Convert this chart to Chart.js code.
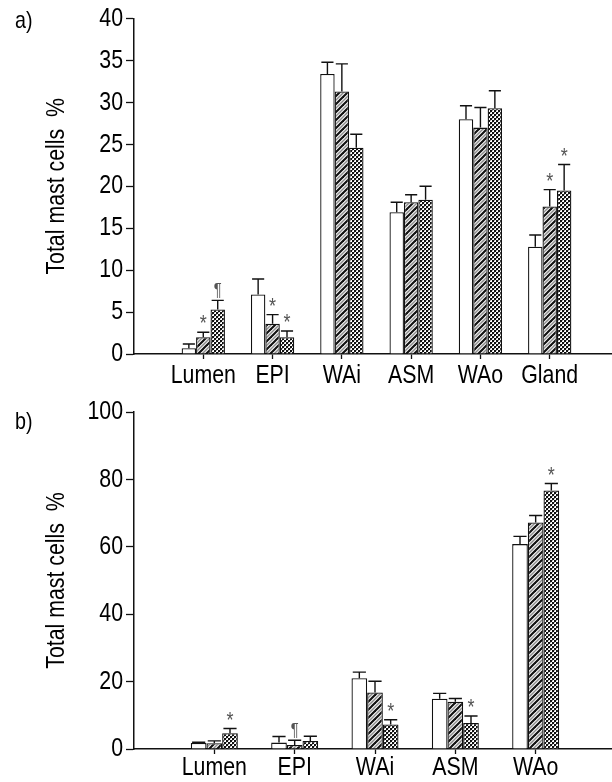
<!DOCTYPE html>
<html>
<head>
<meta charset="utf-8">
<script src="https://cdn.jsdelivr.net/npm/chart.js@4.4.1/dist/chart.umd.min.js"></script>
<style>
  html, body { margin:0; padding:0; background:#fff; width:612px; height:782px; overflow:hidden; }
  #wrap { position:relative; width:612px; height:782px; overflow:hidden; }
  canvas { position:absolute; left:0; }
  #ca { top:0; }
  #cb { top:390px; }
  .lab { position:absolute; line-height:1; color:#000; font-family:"Liberation Sans", Arial, sans-serif; font-size:24px; transform:scaleX(0.82); transform-origin:0 0; }
</style>
</head>
<body>
<div id="wrap">
  <canvas id="ca" width="620" height="390"></canvas>
  <canvas id="cb" width="617" height="392"></canvas>
  <div class="lab" style="left:15px; top:8px;">a)</div>
  <div class="lab" style="left:15px; top:409px;">b)</div>
</div>
<script>
// ---------- data: panel a ----------
const categoriesA = ['Lumen', 'EPI', 'WAi', 'ASM', 'WAo', 'Gland'];
const whiteA      = [0.7, 7.1, 33.4, 16.9, 28.0, 12.8];
const whiteErrA   = [0.5, 1.85, 1.4, 1.2, 1.6, 1.4];
const hatchA      = [2.0, 3.6, 31.3, 18.1, 27.0, 17.6];
const hatchErrA   = [0.6, 1.1, 3.3, 0.9, 2.4, 2.0];
const checkA      = [5.3, 2.0, 24.6, 18.4, 29.3, 19.5];
const checkErrA   = [1.1, 0.75, 1.6, 1.6, 2.1, 3.1];
const whiteMarkA  = ['', '', '', '', '', ''];
const hatchMarkA  = ['*', '*', '', '', '', '*'];
const checkMarkA  = ['\u00B6', '*', '', '', '', '*'];
const yTicksA     = [0, 5, 10, 15, 20, 25, 30, 35, 40];

// ---------- data: panel b ----------
const categoriesB = ['Lumen', 'EPI', 'WAi', 'ASM', 'WAo'];
const whiteB      = [1.8, 1.9, 21.0, 14.9, 60.8];
const whiteErrB   = [0.2, 1.8, 1.8, 1.6, 2.3];
const hatchB      = [1.7, 1.2, 16.8, 14.0, 67.2];
const hatchErrB   = [0.7, 1.4, 3.3, 1.0, 2.1];
const checkB      = [4.7, 2.4, 7.3, 7.7, 76.7];
const checkErrB   = [1.4, 1.4, 1.4, 2.1, 2.1];
const whiteMarkB  = ['', '', '', '', ''];
const hatchMarkB  = ['', '\u00B6', '', '', ''];
const checkMarkB  = ['*', '', '*', '*', '*'];
const yTicksB     = [0, 20, 40, 60, 80, 100];
const yTitle      = 'Total mast cells  %';

const FONT = '"Liberation Sans", Arial, sans-serif';
const FS = 26;          // font size
const SX = 0.82;        // horizontal condensing (narrow sans look)

// condensed text drawing on the chart canvases (text stays real text)
['ca', 'cb'].forEach(id => {
  const g = document.getElementById(id).getContext('2d');
  const orig = CanvasRenderingContext2D.prototype.fillText;
  g.fillText = function (t, x, y, mw) {
    this.save(); this.translate(x, y); this.scale(SX, 1);
    if (mw !== undefined) orig.call(this, t, 0, 0, mw / SX); else orig.call(this, t, 0, 0);
    this.restore();
  };
});

// ---------- fill patterns ----------
function hatchPattern() {
  const c = document.createElement('canvas'); c.width = 8; c.height = 8;
  const g = c.getContext('2d');
  g.fillStyle = '#fff'; g.fillRect(0, 0, 8, 8);
  g.lineCap = 'square';
  g.strokeStyle = '#111'; g.lineWidth = 2.2;
  [-8, 0, 8].forEach(a => { g.beginPath(); g.moveTo(a, 8); g.lineTo(a + 8, 0); g.stroke(); });
  g.strokeStyle = '#8a8a8a'; g.lineWidth = 1.5;
  [-4, 4].forEach(a => { g.beginPath(); g.moveTo(a, 8); g.lineTo(a + 8, 0); g.stroke(); });
  return g.createPattern(c, 'repeat');
}
function checkPattern() {
  const c = document.createElement('canvas'); c.width = 4; c.height = 4;
  const g = c.getContext('2d');
  g.fillStyle = '#fff'; g.fillRect(0, 0, 4, 4);
  g.fillStyle = '#111'; g.fillRect(0, 0, 2, 2); g.fillRect(2, 2, 2, 2);
  g.fillStyle = '#a0a0a0'; g.fillRect(2, 0, 1, 1); g.fillRect(0, 2, 1, 1);
  return g.createPattern(c, 'repeat');
}
const HATCH = hatchPattern();
const CHECK = checkPattern();

const pad = arr => [null, ...arr, null];

// ---------- error bars + significance marks ----------
const errPlugin = {
  id: 'errbars',
  afterDatasetsDraw(chart, args, opts) {
    const ctx = chart.ctx, y = chart.scales.y;
    ctx.save();
    chart.data.datasets.forEach((ds, di) => {
      const meta = chart.getDatasetMeta(di);
      meta.data.forEach((bar, i) => {
        const v = ds.data[i];
        if (v == null) return;
        const e = opts.errors[di][i] || 0;
        const top = y.getPixelForValue(v + e);
        const half = bar.width * 0.42;
        ctx.strokeStyle = '#111'; ctx.lineWidth = 1.4;
        ctx.beginPath();
        ctx.moveTo(bar.x, bar.y); ctx.lineTo(bar.x, top);
        ctx.moveTo(bar.x - half, top); ctx.lineTo(bar.x + half, top);
        ctx.stroke();
        const m = opts.marks[di][i];
        if (m) {
          ctx.fillStyle = '#555'; ctx.textAlign = 'center';
          if (m === '*') {
            ctx.font = '22px ' + FONT; ctx.textBaseline = 'middle';
            ctx.fillText(m, bar.x, top - 8);
          } else {
            ctx.font = '18px ' + FONT; ctx.textBaseline = 'alphabetic';
            ctx.fillText(m, bar.x, top - 4);
          }
        }
      });
    });
    ctx.restore();
  }
};

function makeChart(id, cats, series, errs, marks, yTicks, catPct, xAxisH, padTop, xPad) {
  const labels = ['', ...cats, ''];
  const fills = ['#ffffff', HATCH, CHECK];
  return new Chart(document.getElementById(id), {
    type: 'bar',
    data: {
      labels,
      datasets: series.map((s, k) => ({
        data: pad(s),
        backgroundColor: fills[k],
        borderColor: '#111',
        borderWidth: 1.3,
        borderSkipped: 'bottom',
        categoryPercentage: catPct,
        barPercentage: 1.0
      }))
    },
    options: {
      responsive: false,
      animation: false,
      devicePixelRatio: 1,
      layout: { padding: { top: padTop, right: 1, left: 0, bottom: 0 } },
      plugins: {
        legend: { display: false },
        tooltip: { enabled: false },
        errbars: { errors: errs.map(pad), marks: marks.map(pad) }
      },
      scales: {
        x: {
          type: 'category',
          offset: false,
          grid: {
            offset: false, drawOnChartArea: false, drawTicks: true, tickLength: 5,
            tickColor: c => (c.tick && c.tick.label) ? '#111' : 'rgba(0,0,0,0)', tickWidth: 1.3
          },
          border: { display: true, color: '#111', width: 1.5 },
          ticks: { color: '#000', font: { family: FONT, size: FS }, padding: xPad, maxRotation: 0, autoSkip: false },
          afterFit: s => { s.height = xAxisH; }
        },
        y: {
          min: yTicks[0], max: yTicks[yTicks.length - 1],
          afterBuildTicks: s => { s.ticks = yTicks.map(v => ({ value: v })); },
          grid: { drawOnChartArea: false, drawTicks: true, tickLength: 8, color: '#111', tickWidth: 1.3 },
          border: { display: true, color: '#111', width: 1.5 },
          ticks: { color: '#000', font: { family: FONT, size: FS }, padding: 3 },
          title: { display: true, text: yTitle, color: '#000', font: { family: FONT, size: FS }, padding: { top: 57 - FS * 0.6, bottom: 0 } },
          afterFit: s => { s.width = 134; }
        }
      }
    },
    plugins: [errPlugin]
  });
}

makeChart('ca', categoriesA, [whiteA, hatchA, checkA], [whiteErrA, hatchErrA, checkErrA],
          [whiteMarkA, hatchMarkA, checkMarkA], yTicksA, 0.625, 36, 18, 1);
makeChart('cb', categoriesB, [whiteB, hatchB, checkB], [whiteErrB, hatchErrB, checkErrB],
          [whiteMarkB, hatchMarkB, checkMarkB], yTicksB, 0.585, 33, 22, -2);
</script>
</body>
</html>
